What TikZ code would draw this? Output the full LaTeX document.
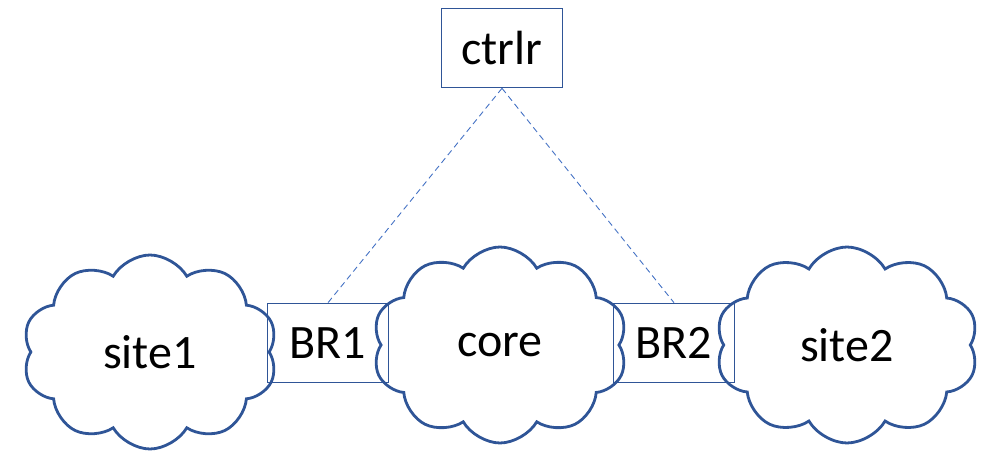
\documentclass[tikz,border=0pt]{standalone}
\usepackage{fontspec}
\setmainfont{Carlito}
\usetikzlibrary{shapes.symbols}
\definecolor{wolke}{RGB}{47,85,151}
\definecolor{strich}{RGB}{68,114,196}

\begin{document}
\begin{tikzpicture}[x=1pt, y=-1pt, font=\fontsize{48}{58}\selectfont,
	netz/.style={draw=wolke, line width=2.8pt, cloud, cloud puffs=10, cloud puff arc=120, cloud ignores aspect, inner sep=0pt},
	kasten/.style={draw=wolke, line width=1.6pt, rectangle, minimum width=121pt, minimum height=79pt, inner sep=0pt}]

	\useasboundingbox (0,0) rectangle (987,452);

	% Wolken
	\node[netz, minimum width=255pt, minimum height=194pt] (site1) at (150,352) {site1};
	\node[netz, minimum width=255pt, minimum height=196pt] (core) at (500,345) {core};
	\node[netz, minimum width=263pt, minimum height=196pt] (site2) at (847,345) {site2};

	% Router
	\node[kasten] (ctrlr) at (502,48) {ctrlr};
	\node[kasten] (br1) at (328,343) {BR1};
	\node[kasten] (br2) at (674,343) {BR2};

	% Steuerung
	\draw[strich, dash pattern=on 6pt off 4pt, line width=0.9pt] (ctrlr.south) -- (br1.north);
	\draw[strich, dash pattern=on 6pt off 4pt, line width=0.9pt] (ctrlr.south) -- (br2.north);

\end{tikzpicture}
\end{document}
